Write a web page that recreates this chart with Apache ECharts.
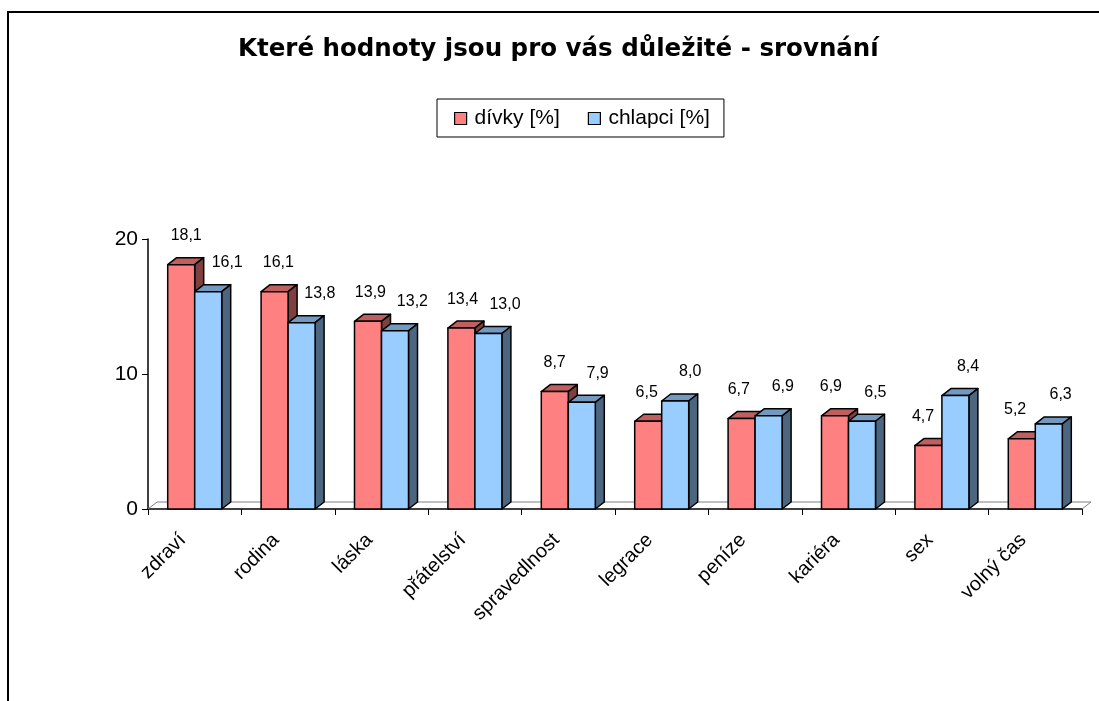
<!DOCTYPE html>
<html><head><meta charset="utf-8">
<script src="https://cdn.jsdelivr.net/npm/echarts@6/dist/echarts.min.js"></script>
<style>html,body{margin:0;padding:0;background:#fff}#c{width:1099px;height:701px}</style>
</head><body><div id="c"></div>
<script>
const categories = ['zdraví','rodina','láska','přátelství','spravedlnost','legrace','peníze','kariéra','sex','volný čas'];
const divky = [18.1, 16.1, 13.9, 13.4, 8.7, 6.5, 6.7, 6.9, 4.7, 5.2];
const chlapci = [16.1, 13.8, 13.2, 13.0, 7.9, 8.0, 6.9, 6.5, 8.4, 6.3];
const yTicks = [0, 10, 20];
const seriesNames = ['dívky [%]', 'chlapci [%]'];
const titleText = 'Které hodnoty jsou pro vás důležité - srovnání';

const DX = 9, DY = 7, BW = 27;
const FONT = '"Liberation Sans", Arial, sans-serif';
function fmt(v){ return v.toFixed(1).replace('.', ','); }

function barSeries(name, data, side, colors, labelOff){
  return {
    type: 'custom', name: name,
    data: data.map((v, i) => [i, v]),
    itemStyle: { color: colors.front, borderColor: '#000', borderWidth: 1.5 },
    z: 3,
    renderItem: function(params, api){
      const i = api.value(0), v = api.value(1);
      const base = api.coord([i, 0]), top = api.coord([i, v]);
      const x0 = side === 0 ? base[0] - BW : base[0];
      const x1 = x0 + BW;
      const yt = top[1], yb = base[1];
      const st = { stroke: '#000', lineWidth: 1.5, lineJoin: 'round' };
      return { type: 'group', children: [
        { type: 'polygon', shape: { points: [[x0, yt], [x0 + DX, yt - DY], [x1 + DX, yt - DY], [x1, yt]] }, style: Object.assign({ fill: colors.top }, st) },
        { type: 'polygon', shape: { points: [[x1, yt], [x1 + DX, yt - DY], [x1 + DX, yb - DY], [x1, yb]] }, style: Object.assign({ fill: colors.side }, st) },
        { type: 'rect', shape: { x: x0, y: yt, width: BW, height: yb - yt }, style: Object.assign({ fill: colors.front }, st) },
        { type: 'text', x: (x0 + x1) / 2 + labelOff(i), y: yt - 29,
          style: { text: fmt(v), fontSize: 16, fontFamily: FONT, fill: '#000', align: 'center', verticalAlign: 'middle' } }
      ]};
    }
  };
}

const floorSeries = {
  type: 'custom', name: 'floor', data: [[0, 0]], z: 1, silent: true,
  renderItem: function(params, api){
    const cs = params.coordSys;
    const yb = cs.y + cs.height;
    return { type: 'polyline', shape: { points: [[cs.x, yb], [cs.x + DX, yb - DY], [cs.x + cs.width + DX, yb - DY], [cs.x + cs.width, yb]] },
      style: { stroke: '#808080', lineWidth: 1, fill: null } };
  }
};

const chart = echarts.init(document.getElementById('c'));
chart.setOption({
  backgroundColor: '#fff',
  animation: false,
  title: { text: titleText, left: 233, top: 32,
    textStyle: { fontSize: 24.5, fontWeight: 'bold', fontFamily: '"DejaVu Sans", sans-serif', color: '#000' } },
  legend: {
    data: seriesNames, left: 437, top: 99,
    padding: [9, 14, 8, 17], itemGap: 28, itemWidth: 12, itemHeight: 12,
    borderColor: '#000', borderWidth: 1, icon: 'rect',
    itemStyle: { borderColor: '#000', borderWidth: 1.2 },
    textStyle: { fontSize: 21, fontFamily: FONT, color: '#000', padding: [0, 0, 0, 3] }
  },
  grid: { left: 148, right: 17, top: 239, bottom: 192 },
  xAxis: {
    type: 'category', data: categories,
    axisLine: { lineStyle: { color: '#000', width: 1.5 } },
    axisTick: { show: true, length: 6, lineStyle: { color: '#000', width: 1 } },
    axisLabel: { rotate: 45, margin: 16, fontSize: 20, fontFamily: FONT, color: '#000', padding: [0, 17, 0, 0] }
  },
  yAxis: {
    type: 'value', min: yTicks[0], max: yTicks[yTicks.length - 1], interval: yTicks[1] - yTicks[0],
    axisLine: { show: true, lineStyle: { color: '#000', width: 1.5 } },
    axisTick: { show: true, length: 6, lineStyle: { color: '#000', width: 1 } },
    splitLine: { show: false },
    axisLabel: { margin: 10, fontSize: 21, fontFamily: FONT, color: '#000' }
  },
  graphic: [{ type: 'rect', x: 0, y: 0, shape: { x: 8, y: 12, width: 1200, height: 800 },
    style: { fill: null, stroke: '#000', lineWidth: 2 }, silent: true }],
  series: [
    floorSeries,
    barSeries(seriesNames[0], divky, 0, { front: '#FF8080', top: '#BF6060', side: '#804040' }, i => 5 - 1.3 * i),
    barSeries(seriesNames[1], chlapci, 1, { front: '#99CCFF', top: '#7399BF', side: '#4D6680' }, i => 19 - 0.8 * i)
  ]
});
</script></body></html>
